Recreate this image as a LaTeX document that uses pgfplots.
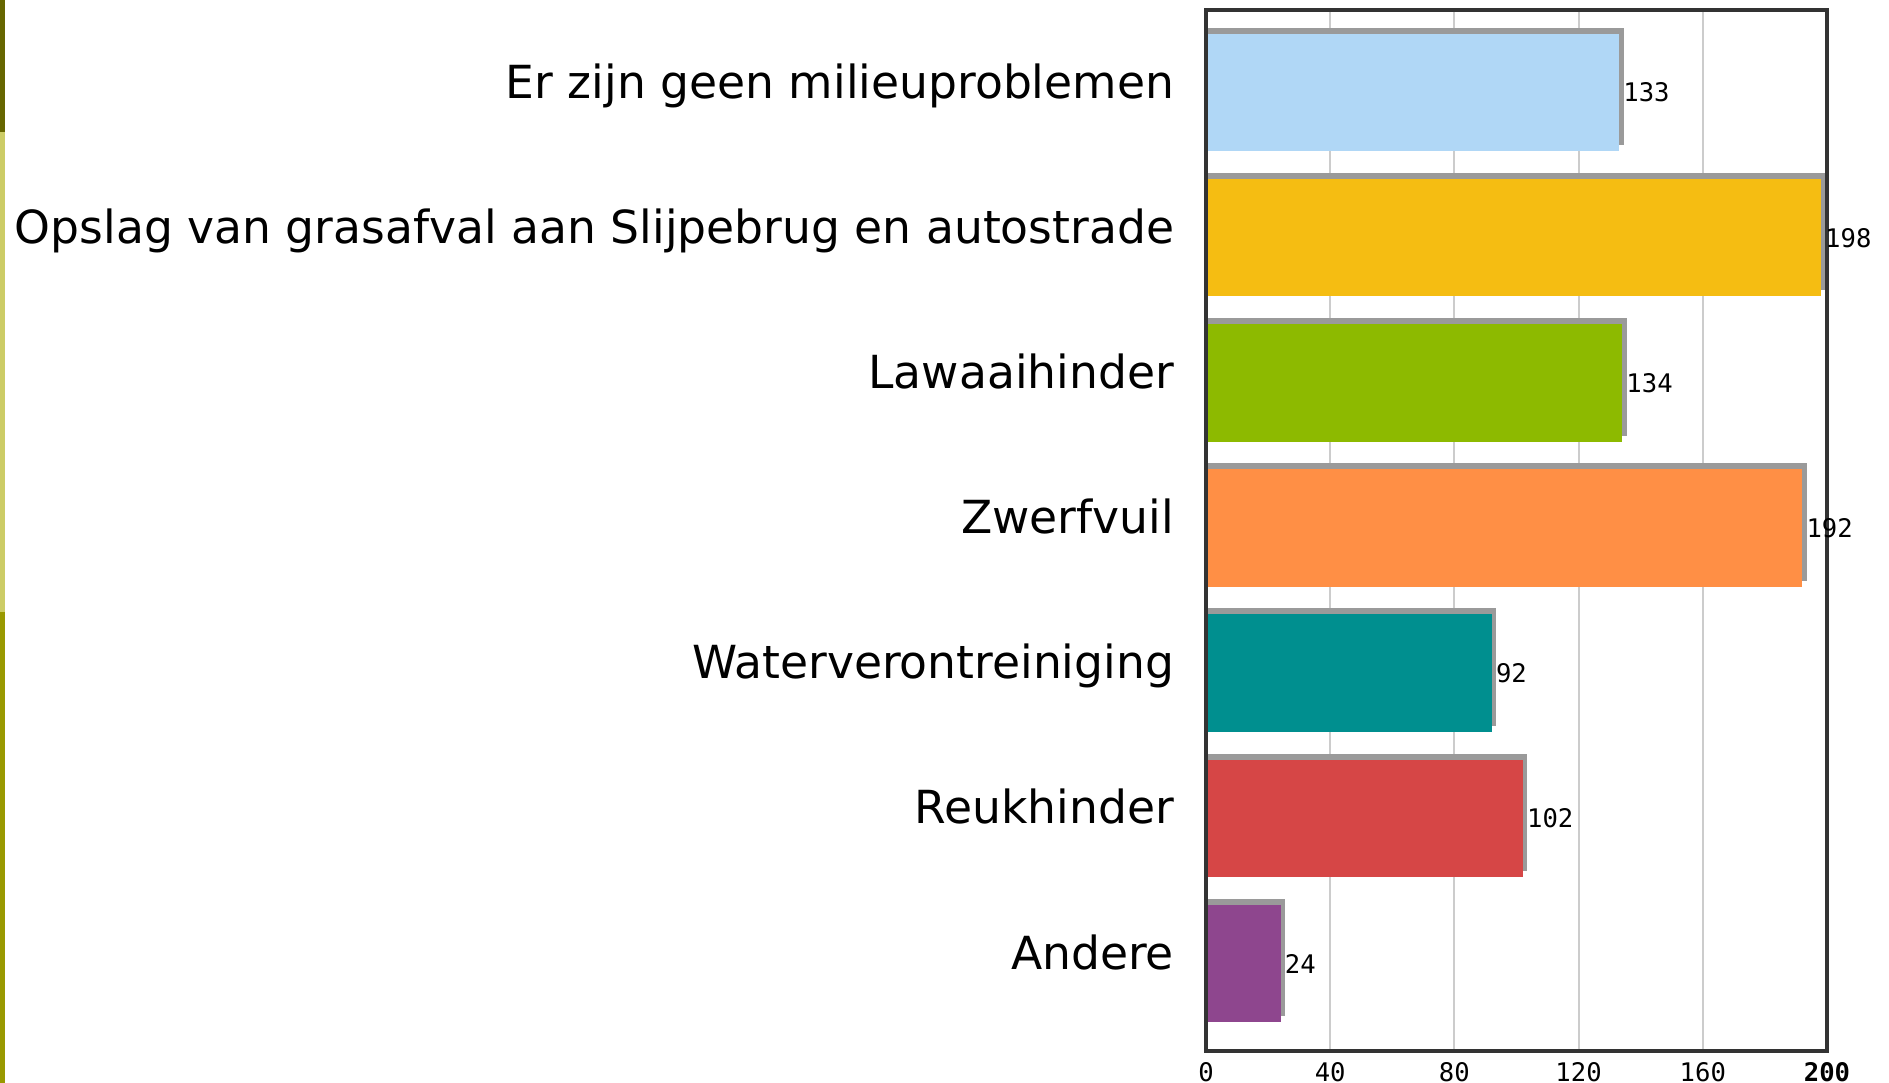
\documentclass[border=0pt]{standalone}
\usepackage{pgfplots}
\pgfplotsset{compat=1.18}
\usepackage{fontspec}
\newfontfamily\labelfamily{DejaVu Sans}
\newfontfamily\monofamily{DejaVu Sans Mono}
\newcommand\labelfont{\labelfamily\fontsize{11.4bp}{13bp}\selectfont}
\newcommand\tickfont{\monofamily\fontsize{6.4bp}{7bp}\selectfont}
\definecolor{cBlue}{HTML}{B0D7F6}
\definecolor{cGold}{HTML}{F5BD12}
\definecolor{cGreen}{HTML}{8DBA00}
\definecolor{cOrange}{HTML}{FF8F45}
\definecolor{cTeal}{HTML}{008F8F}
\definecolor{cRed}{HTML}{D64646}
\definecolor{cPurple}{HTML}{8E468E}
\definecolor{shadowgray}{HTML}{9A9A9A}
\definecolor{gridgray}{HTML}{CCCCCC}
\definecolor{framegray}{HTML}{333333}
\definecolor{stripA}{HTML}{666600}
\definecolor{stripB}{HTML}{CCCC66}
\definecolor{stripC}{HTML}{999900}
\begin{document}
\begin{tikzpicture}
\useasboundingbox (0,0) rectangle (472.25bp,270.75bp);
\fill[stripA] (0,237.75bp) rectangle (1.25bp,270.75bp);
\fill[stripB] (0,117.75bp) rectangle (1.25bp,237.75bp);
\fill[stripC] (0,0) rectangle (1.25bp,117.75bp);
\begin{axis}[
  at={(301.5bp,8.1bp)}, anchor=south west,
  width=155.25bp, height=260.2bp, scale only axis,
  xmin=0, xmax=200, ymin=-0.6, ymax=6.57,
  xbar, bar width=0.81, bar shift=0pt,
  no markers, clip=false,
  /pgf/number format/assume math mode=true,
  xtick={0,40,80,120,160,200},
  xticklabels={0,40,80,120,160,\textbf{200}},
  ytick={0,1,2,3,4,5,6},
  yticklabels={Andere,Reukhinder,Waterverontreiniging,Zwerfvuil,Lawaaihinder,Opslag van grasafval aan Slijpebrug en autostrade,Er zijn geen milieuproblemen},
  major tick length=0pt,
  xmajorgrids, grid style={draw=gridgray, line width=0.5bp},
  axis line style={draw=framegray, line width=1bp},
  x tick label style={font=\tickfont, anchor=north, inner sep=0pt, yshift=-2.9bp},
  y tick label style={font=\labelfont, anchor=base east, inner sep=0pt, xshift=-7.8bp, yshift=-1.4bp},
  shadow/.style={fill=shadowgray, draw=none, bar shift=1.5bp, forget plot},
  main/.style={fill=#1, draw=none, nodes near coords,
    every node near coord/.append style={font=\tickfont, text=black, anchor=west, inner sep=0.5bp, xshift=0.4bp}},
]
\addplot[shadow] coordinates {(134.5,6)};
\addplot[main=cBlue] coordinates {(133,6)};
\addplot[shadow] coordinates {(199.5,5)};
\addplot[main=cGold] coordinates {(198,5)};
\addplot[shadow] coordinates {(135.5,4)};
\addplot[main=cGreen] coordinates {(134,4)};
\addplot[shadow] coordinates {(193.5,3)};
\addplot[main=cOrange] coordinates {(192,3)};
\addplot[shadow] coordinates {(93.5,2)};
\addplot[main=cTeal] coordinates {(92,2)};
\addplot[shadow] coordinates {(103.5,1)};
\addplot[main=cRed] coordinates {(102,1)};
\addplot[shadow] coordinates {(25.5,0)};
\addplot[main=cPurple] coordinates {(24,0)};
\draw[framegray, line width=1bp] (rel axis cs:0,0) rectangle (rel axis cs:1,1);
\end{axis}
\end{tikzpicture}
\end{document}
